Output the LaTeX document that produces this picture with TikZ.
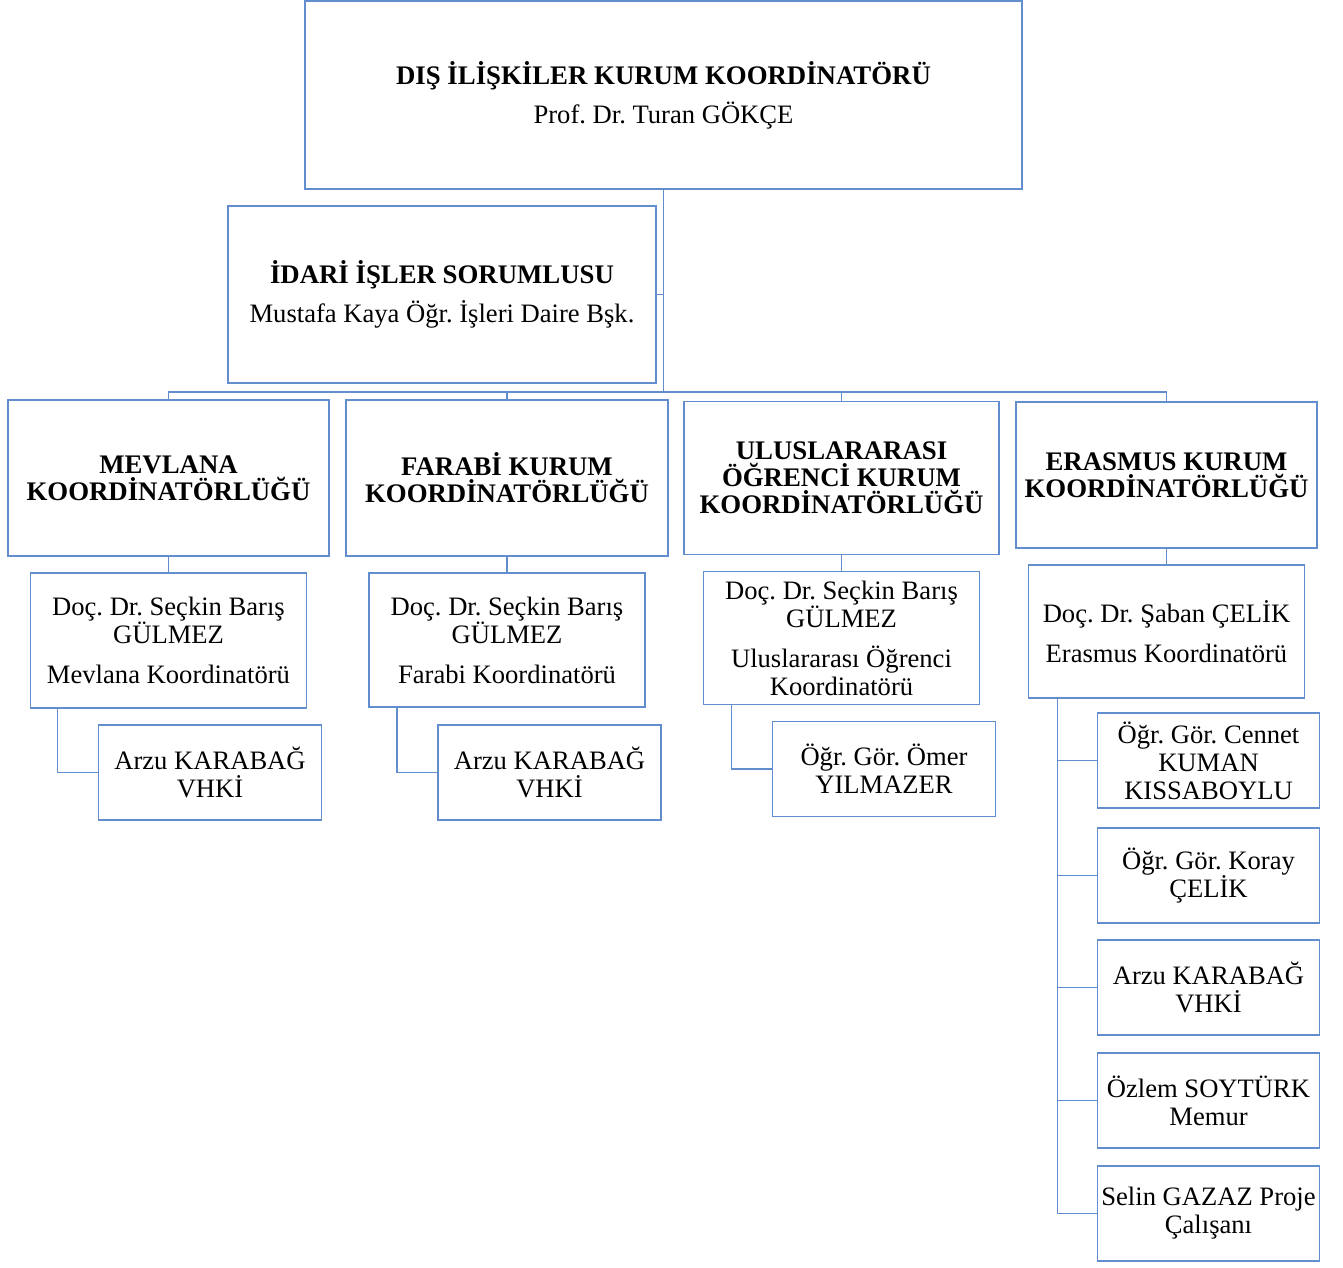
\documentclass[tikz,border=0pt]{standalone}
\usepackage{fontspec}
\setmainfont{Liberation Serif}
\frenchspacing
\usetikzlibrary{positioning}
\definecolor{boxblue}{RGB}{98,142,206}
\tikzset{
    x=1pt, y=-1pt, % one unit is one pixel, y grows downwards
    styleLine/.style={draw=boxblue, line width=1.6pt}, % sets the look of the connecting lines
    styleBox/.style={styleLine, align=center, inner sep=0pt, outer sep=0pt, font=\fontsize{26.6}{28}\selectfont}, % sets the look of each box
}

\begin{document}
\begin{tikzpicture}[
                                styleHead/.style={styleBox, font=\bfseries\fontsize{26.8}{27}\selectfont},
                                styleStaff/.style={styleBox, minimum width=223pt, minimum height=95pt},
                                node distance=17pt,
                            ]
                            \useasboundingbox (0,0) rectangle (1343,1267);
                            \node[styleBox, minimum width=717pt, minimum height=188pt] (dis) at (663.5,95) {{\fontsize{26.8}{28}\selectfont\bfseries DIŞ İLİŞKİLER KURUM KOORDİNATÖRÜ}\\[11pt]Prof. Dr. Turan GÖKÇE};
                            \node[styleBox, minimum width=428pt, minimum height=177pt] (idari) at (442,294.5) {{\fontsize{26.8}{28}\selectfont\bfseries İDARİ İŞLER SORUMLUSU}\\[11pt]Mustafa Kaya Öğr. İşleri Daire Bşk.};
                            \node[styleHead, minimum width=321pt, minimum height=156pt] (mevlana) at (168.5,478) {MEVLANA\\KOORDİNATÖRLÜĞÜ};
                            \node[styleHead, minimum width=322pt, minimum height=156pt, right=of mevlana] (farabi) {FARABİ KURUM\\KOORDİNATÖRLÜĞÜ};
                            \node[styleHead, minimum width=315pt, minimum height=153pt, right=16pt of farabi] (ulus) {ULUSLARARASI\\ÖĞRENCİ KURUM\\KOORDİNATÖRLÜĞÜ};
                            \node[styleHead, minimum width=301pt, minimum height=146pt, right=of ulus, yshift=3pt] (erasmus) {ERASMUS KURUM\\KOORDİNATÖRLÜĞÜ};
                            \node[styleBox, minimum width=276pt, minimum height=135pt, below=of mevlana] (mevlanaKoord) {Doç. Dr. Seçkin Barış\\GÜLMEZ\\[12pt]Mevlana Koordinatörü};
                            \node[styleBox, minimum width=276pt, minimum height=134pt, below=of farabi] (farabiKoord) {Doç. Dr. Seçkin Barış\\GÜLMEZ\\[12pt]Farabi Koordinatörü};
                            \node[styleBox, minimum width=276pt, minimum height=133pt, below=of ulus] (ulusKoord) {Doç. Dr. Seçkin Barış\\GÜLMEZ\\[12pt]Uluslararası Öğrenci\\Koordinatörü};
                            \node[styleBox, minimum width=276pt, minimum height=133pt, below=of erasmus] (erasmusKoord) {Doç. Dr. Şaban ÇELİK\\[12pt]Erasmus Koordinatörü};
                            \node[styleStaff, below=of mevlanaKoord, xshift=41.5pt] (mevlanaVhki) {Arzu KARABAĞ\\VHKİ};
                            \node[styleStaff, below=18pt of farabiKoord, xshift=42.5pt] (farabiVhki) {Arzu KARABAĞ\\VHKİ};
                            \node[styleStaff, below=of ulusKoord, xshift=42.5pt] (ulusOmer) {Öğr. Gör. Ömer\\YILMAZER};
                            \node[styleStaff, minimum width=222pt, below=15pt of erasmusKoord, xshift=42pt] (erasmusCennet) {Öğr. Gör. Cennet\\KUMAN\\KISSABOYLU};
                            \node[styleStaff, minimum width=222pt, below=20pt of erasmusCennet] (erasmusKoray) {Öğr. Gör. Koray\\ÇELİK};
                            \node[styleStaff, minimum width=222pt, below=of erasmusKoray] (erasmusArzu) {Arzu KARABAĞ\\VHKİ};
                            \node[styleStaff, minimum width=222pt, below=18pt of erasmusArzu] (erasmusOzlem) {Özlem SOYTÜRK\\Memur};
                            \node[styleStaff, minimum width=222pt, below=18pt of erasmusOzlem] (erasmusSelin) {Selin GAZAZ Proje\\Çalışanı};
                            \coordinate (bus) at (663.5,392);
                            \coordinate (erasmusTrunk) at ([xshift=29pt]erasmusKoord.south west);
                            \draw[styleLine]
                            (dis.south) -- (bus)
                            (idari.east) -- (idari.east -| bus)
                            (mevlana.north) -- (mevlana.north |- bus) -- (erasmus.north |- bus) -- (erasmus.north)
                            (farabi.north) -- (farabi.north |- bus)
                            (ulus.north) -- (ulus.north |- bus)
                            (mevlana.south) -- (mevlanaKoord.north)
                            (farabi.south) -- (farabiKoord.north)
                            (ulus.south) -- (ulusKoord.north)
                            (erasmus.south) -- (erasmusKoord.north)
                            ([xshift=27pt]mevlanaKoord.south west) |- (mevlanaVhki.west)
                            ([xshift=28pt]farabiKoord.south west) |- (farabiVhki.west)
                            ([xshift=28pt]ulusKoord.south west) |- (ulusOmer.west)
                            (erasmusTrunk) |- (erasmusSelin.west)
                            (erasmusCennet.west) -- (erasmusCennet.west -| erasmusTrunk)
                            (erasmusKoray.west) -- (erasmusKoray.west -| erasmusTrunk)
                            (erasmusArzu.west) -- (erasmusArzu.west -| erasmusTrunk)
                            (erasmusOzlem.west) -- (erasmusOzlem.west -| erasmusTrunk);
                        \end{tikzpicture}
\end{document}
